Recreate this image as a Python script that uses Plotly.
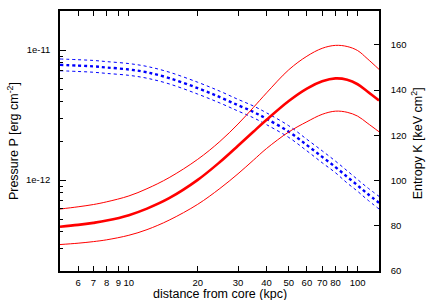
import plotly.graph_objects as go

# distance from core (kpc)
r_kpc = [5, 6, 7, 8, 10, 12, 15, 20, 25, 30, 35, 40, 50, 60, 70, 80, 90, 100, 110, 124]

# Pressure [erg cm^-2]  (x 1e-12)
p_mid = [7.7, 7.6, 7.5, 7.35, 7.1, 6.75, 6.1, 5.1, 4.35, 3.77, 3.35, 2.96, 2.36, 1.86, 1.51, 1.26, 1.06, 0.91, 0.79, 0.67]
p_hi = [8.55, 8.44, 8.33, 8.16, 7.88, 7.49, 6.77, 5.66, 4.83, 4.18, 3.72, 3.29, 2.62, 2.06, 1.68, 1.40, 1.18, 1.01, 0.88, 0.75]
p_lo = [6.94, 6.85, 6.76, 6.62, 6.40, 6.08, 5.50, 4.59, 3.92, 3.40, 3.02, 2.67, 2.13, 1.68, 1.36, 1.14, 0.95, 0.82, 0.71, 0.60]

# Entropy K [keV cm^2]
k_mid = [79.6, 80.4, 81.3, 82.3, 84.7, 87.6, 92.2, 100.3, 108.2, 115.4, 121.6, 126.9, 135.2, 140.7, 143.9, 145.2, 144.6, 142.6, 139.5, 135.4]
k_hi = [87.4, 88.4, 89.4, 90.6, 93.2, 96.4, 101.3, 109.4, 117.3, 125.0, 132.3, 138.8, 149.0, 155.0, 158.5, 159.8, 159.3, 157.5, 154.0, 149.2]
k_lo = [71.7, 72.3, 73.0, 73.8, 75.8, 78.3, 82.5, 89.5, 96.5, 103.0, 109.0, 114.2, 121.5, 126.0, 129.3, 130.7, 130.2, 128.5, 125.5, 121.6]

x_ticks = [6, 7, 8, 9, 10, 20, 30, 40, 50, 60, 70, 80, 90, 100]
x_labels = ["6", "7", "8", "9", "10", "20", "30", "40", "50", "60", "70", "80", " ", "100"]
p_ticks = [1e-12, 1e-11]
p_labels = ["1e-12", "1e-11"]
p_minor = [2e-13, 3e-13, 4e-13, 5e-13, 6e-13, 7e-13, 8e-13, 9e-13,
           2e-12, 3e-12, 4e-12, 5e-12, 6e-12, 7e-12, 8e-12, 9e-12]
k_ticks = [60, 80, 100, 120, 140, 160]

FONT = "Liberation Sans, Arial, Helvetica, sans-serif"
fig = go.Figure()

def pscale(v):
    return [a * 1e-12 for a in v]

for ys, w in [(p_hi, 1.0), (p_lo, 1.0), (p_mid, 2.4)]:
    fig.add_trace(go.Scatter(x=r_kpc, y=pscale(ys), mode="lines", yaxis="y",
                             line=dict(color="#0000ff", width=w, dash="dot", shape="spline"),
                             showlegend=False, hoverinfo="skip"))

for ys, w in [(k_hi, 1.0), (k_lo, 1.0), (k_mid, 2.6)]:
    fig.add_trace(go.Scatter(x=r_kpc, y=ys, mode="lines", yaxis="y2",
                             line=dict(color="#ff0000", width=w, shape="spline"),
                             showlegend=False, hoverinfo="skip"))

fig.update_layout(
    width=428, height=300,
    margin=dict(l=60, r=49, t=11, b=29),
    paper_bgcolor="white", plot_bgcolor="white",
    font=dict(family=FONT, size=10, color="black"),
    showlegend=False,
    xaxis=dict(type="log", range=[0.69897, 2.0934], showgrid=False, zeroline=False,
               showline=True, linecolor="black", linewidth=1.5, mirror="ticks",
               ticks="inside", ticklen=5, tickcolor="black", tickwidth=1.2,
               tickvals=x_ticks, ticktext=x_labels, tickfont=dict(size=9.5),
               tickangle=0, ticklabelstandoff=2, automargin=False),
    yaxis=dict(type="log", range=[-12.699, -10.699], showgrid=False, zeroline=False,
               showline=True, linecolor="black", linewidth=1.5,
               ticks="inside", ticklen=6, tickcolor="black", tickwidth=1.2,
               tickvals=p_ticks, ticktext=p_labels, tickfont=dict(size=9.5),
               ticklabelstandoff=6, automargin=False,
               minor=dict(ticks="inside", ticklen=3, tickcolor="black", tickwidth=1,
                          tickvals=p_minor, showgrid=False)),
    yaxis2=dict(overlaying="y", side="right", range=[60, 175], showgrid=False, zeroline=False,
                showline=True, linecolor="black", linewidth=1.5,
                ticks="inside", ticklen=5, tickcolor="black", tickwidth=1.2,
                tickvals=k_ticks, tickfont=dict(size=9.5), ticklabelstandoff=8,
                automargin=False),
    annotations=[
        dict(text="Pressure P [erg cm<sup>-2</sup>]", xref="paper", yref="paper",
             x=-0.147, y=0.5, textangle=-90, showarrow=False,
             xanchor="center", yanchor="middle", font=dict(size=12.5)),
        dict(text="Entropy K [keV cm<sup>2</sup>]", xref="paper", yref="paper",
             x=1.118, y=0.49, textangle=-90, showarrow=False,
             xanchor="center", yanchor="middle", font=dict(size=12.5)),
        dict(text="distance from core (kpc)", xref="paper", yref="paper",
             x=0.5, y=-0.088, showarrow=False,
             xanchor="center", yanchor="middle", font=dict(size=12.5)),
    ],
)

fig.write_html("out.html", config={"displayModeBar": False},
               post_script="document.body.style.margin='0';document.body.style.overflow='hidden';")
